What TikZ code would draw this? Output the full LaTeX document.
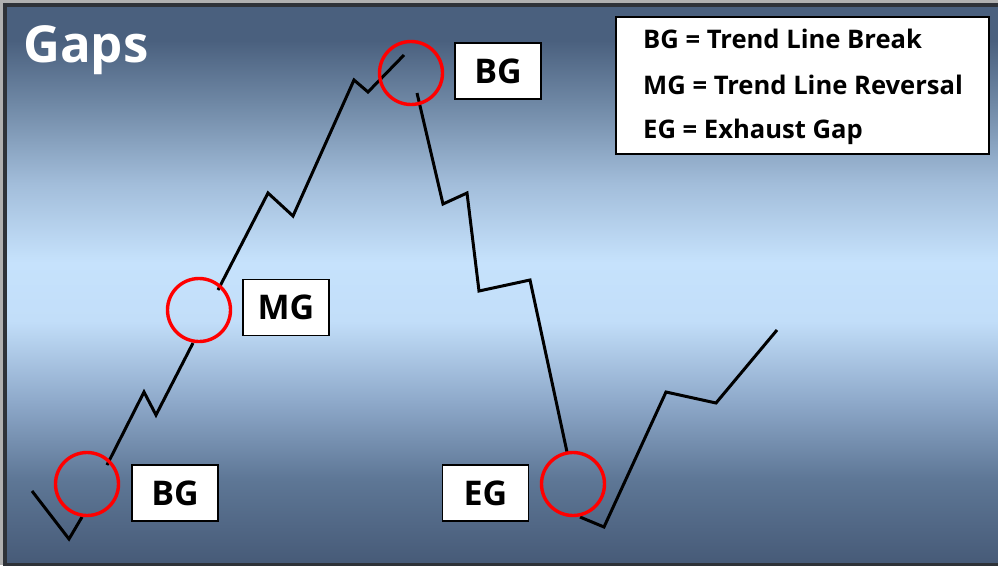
\documentclass[tikz,border=0pt]{standalone}
\usepackage{fontspec}
\setmainfont{Open Sans}
\definecolor{bgA}{HTML}{475B78}
\definecolor{bgB}{HTML}{5E7796}
\definecolor{bgC}{HTML}{8FAACB}
\definecolor{bgD}{HTML}{C2DEF9}
\definecolor{bgE}{HTML}{C6E2FC}
\definecolor{bgF}{HTML}{A2BDDA}
\definecolor{bgG}{HTML}{7089A6}
\definecolor{bgH}{HTML}{4A607E}
\definecolor{frameouter}{HTML}{B0B0B0}
\definecolor{framedark}{HTML}{2E3238}
\pgfdeclareverticalshading{gapsbg}{100bp}{%
  color(0bp)=(bgA); color(25bp)=(bgA); color(32.5bp)=(bgB); color(39.6bp)=(bgC);
  color(46.7bp)=(bgD); color(52bp)=(bgE); color(59.1bp)=(bgF); color(66.2bp)=(bgG);
  color(72bp)=(bgH); color(100bp)=(bgH)}
\begin{document}
\begin{tikzpicture}[x=1pt,y=-1pt,
  trend/.style={draw=black,line width=3pt,line join=miter},
  gapcircle/.style={circle,draw=red,line width=3.4pt,minimum size=63pt,inner sep=0pt},
  labelbox/.style={rectangle,draw=black,fill=white,line width=1.6pt,minimum width=86pt,minimum height=56pt,inner sep=0pt,font=\fontsize{34}{34}\selectfont\bfseries},
  legendtext/.style={anchor=base west,inner sep=0pt,font=\fontsize{25.6}{25.6}\selectfont\bfseries}]
\useasboundingbox (0,0) rectangle (998,565);
\fill[frameouter] (0,0) rectangle (998,565);
\fill[framedark] (3,3) rectangle (1000,566);
\shade[shading=gapsbg] (7,7) rectangle (1000,562);
% title
\node[anchor=base west,inner sep=0pt,text=white,font=\fontsize{51}{51}\selectfont\bfseries] (title) at (23,62) {Gaps};
% coordinates
\coordinate (a1) at (32,491); \coordinate (a2) at (69,539); \coordinate (a3) at (82,517);
\coordinate (b1) at (107,465); \coordinate (b2) at (144,392); \coordinate (b3) at (156,415); \coordinate (b4) at (193,343);
\coordinate (p1) at (218,290); \coordinate (p2) at (268,193); \coordinate (p3) at (293,216); \coordinate (p4) at (354,80); \coordinate (p5) at (368,92); \coordinate (p6) at (404,55);
\coordinate (d1) at (417,93); \coordinate (d2) at (443,204); \coordinate (d3) at (467,193); \coordinate (d4) at (479,291); \coordinate (d5) at (530,280); \coordinate (d6) at (567,452);
\coordinate (e1) at (580,517); \coordinate (e2) at (604,527); \coordinate (e3) at (666,392); \coordinate (e4) at (716,403); \coordinate (e5) at (777,330);
\draw[trend] (a1) -- (a2) -- (a3);
\draw[trend] (b1) -- (b2) -- (b3) -- (b4);
\draw[trend] (p1) -- (p2) -- (p3) -- (p4) -- (p5) -- (p6);
\draw[trend] (d1) -- (d2) -- (d3) -- (d4) -- (d5) -- (d6);
\draw[trend] (e1) -- (e2) -- (e3) -- (e4) -- (e5);
% circles
\node[gapcircle] (cbg1) at (87,484) {};
\node[gapcircle] (cmg) at (199,310) {};
\node[gapcircle] (cbg2) at (411,73) {};
\node[gapcircle] (ceg) at (573,484) {};
% labels
\node[labelbox] (lbg1) at (175,493) {BG};
\node[labelbox] (lmg) at (286,307.5) {MG};
\node[labelbox] (lbg2) at (498,71) {BG};
\node[labelbox] (leg) at (485.5,493) {EG};
% legend
\node[rectangle,draw=black,fill=white,line width=1.6pt,minimum width=373pt,minimum height=137pt,inner sep=0pt] (legend) at (802.5,85.5) {};
\node[legendtext] (t1) at (643,48) {BG = Trend Line Break};
\node[legendtext] (t2) at (643,94) {MG = Trend Line Reversal};
\node[legendtext] (t3) at (643,138) {EG = Exhaust Gap};
\end{tikzpicture}
\end{document}
